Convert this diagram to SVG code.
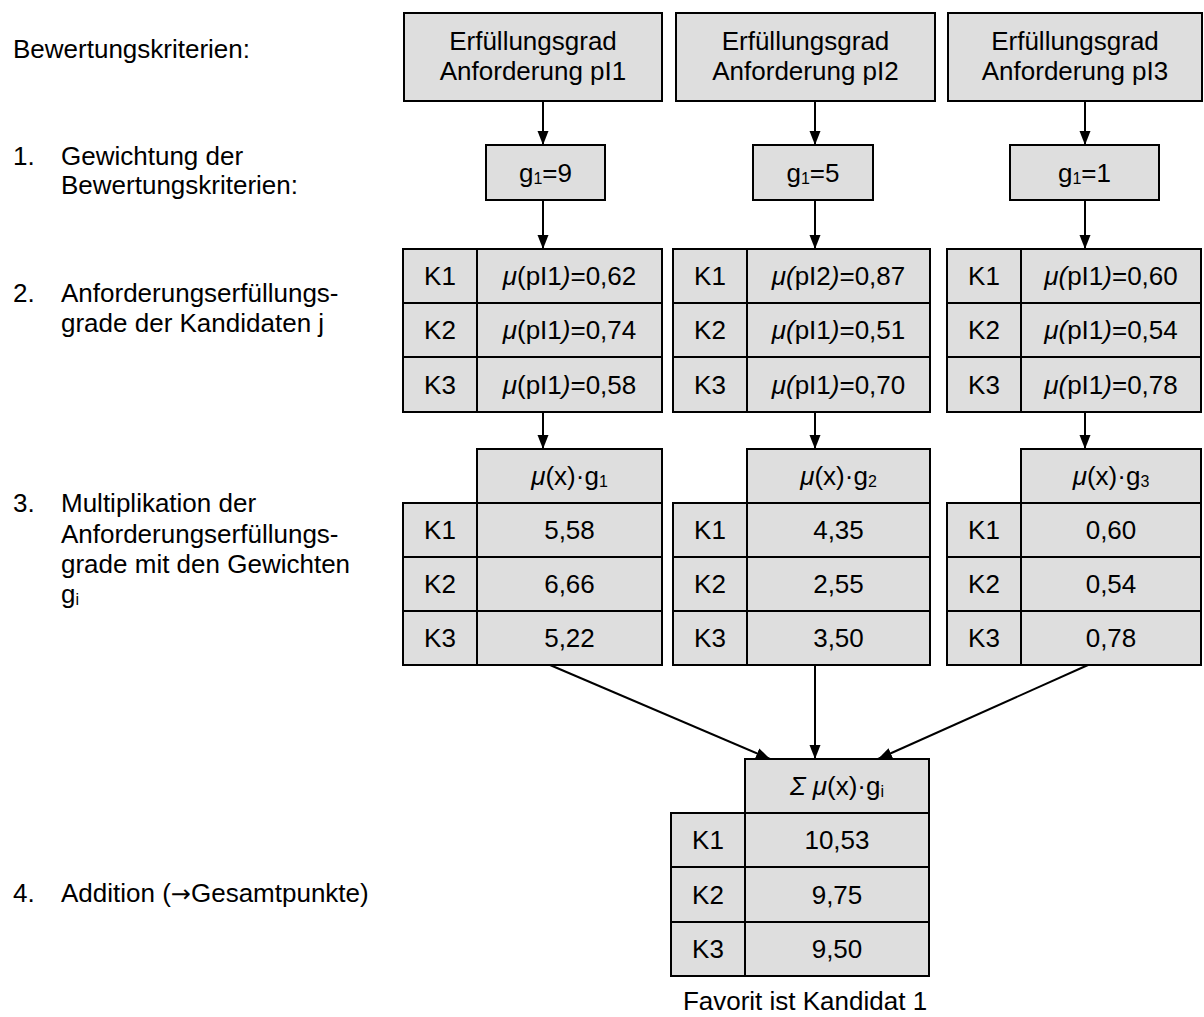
<svg xmlns="http://www.w3.org/2000/svg" width="1204" height="1017" viewBox="0 0 1204 1017">
  <style>
    text { font-family: "Liberation Sans", Arial, sans-serif; font-size: 26px; fill: #000; }
    .c { text-anchor: middle; }
    .box { fill: #dedede; stroke: #000; stroke-width: 2; }
    .edge { stroke: #000; stroke-width: 2; fill: none; marker-end: url(#arr); }
    .it { font-style: italic; }
    .sub { font-size: 16px; }
    .sym { font-family: "DejaVu Sans", sans-serif; font-size: 24px; }
  </style>
  <defs>
    <marker id="arr" viewBox="0 0 14 12" refX="14" refY="6" markerWidth="14" markerHeight="12" markerUnits="userSpaceOnUse" orient="auto">
      <path d="M0,0.5 L14,6 L0,11.5 Z" fill="#000"/>
    </marker>
  </defs>

  <!-- step descriptions on the left -->
  <g id="steps">
    <text x="13" y="58">Bewertungskriterien:</text>
    <text x="13" y="165">1.</text>
    <text x="61" y="165">Gewichtung der</text>
    <text x="61" y="194">Bewertungskriterien:</text>
    <text x="13" y="302">2.</text>
    <text x="61" y="302">Anforderungserfüllungs-</text>
    <text x="61" y="332">grade der Kandidaten j</text>
    <text x="13" y="512">3.</text>
    <text x="61" y="512">Multiplikation der</text>
    <text x="61" y="543">Anforderungserfüllungs-</text>
    <text x="61" y="573">grade mit den Gewichten</text>
    <text x="61" y="603">g<tspan class="sub" dy="2">i</tspan></text>
    <text x="13" y="902">4.</text>
    <text x="61" y="902">Addition (<tspan class="sym">→</tspan>Gesamtpunkte)</text>
  </g>

  <!-- connectors -->
  <g id="connectors">
    <line class="edge" x1="543" y1="101" x2="543" y2="145"/>
    <line class="edge" x1="815" y1="101" x2="815" y2="145"/>
    <line class="edge" x1="1085" y1="101" x2="1085" y2="145"/>
    <line class="edge" x1="543" y1="200" x2="543" y2="249"/>
    <line class="edge" x1="815" y1="200" x2="815" y2="249"/>
    <line class="edge" x1="1085" y1="200" x2="1085" y2="249"/>
    <line class="edge" x1="543" y1="412" x2="543" y2="449"/>
    <line class="edge" x1="815" y1="412" x2="815" y2="449"/>
    <line class="edge" x1="1085" y1="412" x2="1085" y2="449"/>
    <line class="edge" x1="550" y1="665" x2="770" y2="759"/>
    <line class="edge" x1="815" y1="665" x2="815" y2="759"/>
    <line class="edge" x1="1088" y1="665" x2="878" y2="759"/>
  </g>

  <!-- requirement headers -->
  <g id="req1">
    <rect class="box" x="404" y="13" width="258" height="88"/>
    <text class="c" x="533" y="50">Erfüllungsgrad</text>
    <text class="c" x="533" y="80">Anforderung pI1</text>
  </g>
  <g id="req2">
    <rect class="box" x="676" y="13" width="259" height="88"/>
    <text class="c" x="805.5" y="50">Erfüllungsgrad</text>
    <text class="c" x="805.5" y="80">Anforderung pI2</text>
  </g>
  <g id="req3">
    <rect class="box" x="948" y="13" width="254" height="88"/>
    <text class="c" x="1075" y="50">Erfüllungsgrad</text>
    <text class="c" x="1075" y="80">Anforderung pI3</text>
  </g>

  <!-- weights -->
  <g id="weight1">
    <rect class="box" x="486" y="145" width="119" height="55"/>
    <text class="c" x="545.5" y="182">g<tspan class="sub" dy="2">1</tspan><tspan dy="-2">=9</tspan></text>
  </g>
  <g id="weight2">
    <rect class="box" x="753" y="145" width="120" height="55"/>
    <text class="c" x="813" y="182">g<tspan class="sub" dy="2">1</tspan><tspan dy="-2">=5</tspan></text>
  </g>
  <g id="weight3">
    <rect class="box" x="1010" y="145" width="149" height="55"/>
    <text class="c" x="1084.5" y="182">g<tspan class="sub" dy="2">1</tspan><tspan dy="-2">=1</tspan></text>
  </g>

  <!-- fulfilment degrees per candidate -->
  <g id="degrees1">
    <rect class="box" x="403" y="249" width="74" height="54"/>
    <rect class="box" x="477" y="249" width="185" height="54"/>
    <rect class="box" x="403" y="303" width="74" height="54"/>
    <rect class="box" x="477" y="303" width="185" height="54"/>
    <rect class="box" x="403" y="357" width="74" height="55"/>
    <rect class="box" x="477" y="357" width="185" height="55"/>
    <text class="c" x="440" y="285">K1</text>
    <text class="c" x="440" y="339">K2</text>
    <text class="c" x="440" y="394">K3</text>
    <text class="c" x="569.5" y="285"><tspan class="it">μ</tspan>(pI1<tspan class="it">)</tspan>=0,62</text>
    <text class="c" x="569.5" y="339"><tspan class="it">μ</tspan>(pI1<tspan class="it">)</tspan>=0,74</text>
    <text class="c" x="569.5" y="394"><tspan class="it">μ</tspan>(pI1<tspan class="it">)</tspan>=0,58</text>
  </g>
  <g id="degrees2">
    <rect class="box" x="673" y="249" width="74" height="54"/>
    <rect class="box" x="747" y="249" width="183" height="54"/>
    <rect class="box" x="673" y="303" width="74" height="54"/>
    <rect class="box" x="747" y="303" width="183" height="54"/>
    <rect class="box" x="673" y="357" width="74" height="55"/>
    <rect class="box" x="747" y="357" width="183" height="55"/>
    <text class="c" x="710" y="285">K1</text>
    <text class="c" x="710" y="339">K2</text>
    <text class="c" x="710" y="394">K3</text>
    <text class="c" x="838.5" y="285"><tspan class="it">μ(</tspan>pI2<tspan class="it">)</tspan>=0,87</text>
    <text class="c" x="838.5" y="339"><tspan class="it">μ(</tspan>pI1<tspan class="it">)</tspan>=0,51</text>
    <text class="c" x="838.5" y="394"><tspan class="it">μ(</tspan>pI1<tspan class="it">)</tspan>=0,70</text>
  </g>
  <g id="degrees3">
    <rect class="box" x="947" y="249" width="74" height="54"/>
    <rect class="box" x="1021" y="249" width="180" height="54"/>
    <rect class="box" x="947" y="303" width="74" height="54"/>
    <rect class="box" x="1021" y="303" width="180" height="54"/>
    <rect class="box" x="947" y="357" width="74" height="55"/>
    <rect class="box" x="1021" y="357" width="180" height="55"/>
    <text class="c" x="984" y="285">K1</text>
    <text class="c" x="984" y="339">K2</text>
    <text class="c" x="984" y="394">K3</text>
    <text class="c" x="1111" y="285"><tspan class="it">μ(</tspan>pI1<tspan class="it">)</tspan>=0,60</text>
    <text class="c" x="1111" y="339"><tspan class="it">μ(</tspan>pI1<tspan class="it">)</tspan>=0,54</text>
    <text class="c" x="1111" y="394"><tspan class="it">μ(</tspan>pI1<tspan class="it">)</tspan>=0,78</text>
  </g>

  <!-- weighted scores -->
  <g id="weighted1">
    <rect class="box" x="477" y="449" width="185" height="54"/>
    <rect class="box" x="403" y="503" width="74" height="54"/>
    <rect class="box" x="477" y="503" width="185" height="54"/>
    <rect class="box" x="403" y="557" width="74" height="54"/>
    <rect class="box" x="477" y="557" width="185" height="54"/>
    <rect class="box" x="403" y="611" width="74" height="54"/>
    <rect class="box" x="477" y="611" width="185" height="54"/>
    <text class="c" x="569.5" y="485"><tspan class="it">μ</tspan>(x)·g<tspan class="sub" dy="2">1</tspan></text>
    <text class="c" x="440" y="539">K1</text>
    <text class="c" x="440" y="593">K2</text>
    <text class="c" x="440" y="647">K3</text>
    <text class="c" x="569.5" y="539">5,58</text>
    <text class="c" x="569.5" y="593">6,66</text>
    <text class="c" x="569.5" y="647">5,22</text>
  </g>
  <g id="weighted2">
    <rect class="box" x="747" y="449" width="183" height="54"/>
    <rect class="box" x="673" y="503" width="74" height="54"/>
    <rect class="box" x="747" y="503" width="183" height="54"/>
    <rect class="box" x="673" y="557" width="74" height="54"/>
    <rect class="box" x="747" y="557" width="183" height="54"/>
    <rect class="box" x="673" y="611" width="74" height="54"/>
    <rect class="box" x="747" y="611" width="183" height="54"/>
    <text class="c" x="838.5" y="485"><tspan class="it">μ</tspan>(x)·g<tspan class="sub" dy="2">2</tspan></text>
    <text class="c" x="710" y="539">K1</text>
    <text class="c" x="710" y="593">K2</text>
    <text class="c" x="710" y="647">K3</text>
    <text class="c" x="838.5" y="539">4,35</text>
    <text class="c" x="838.5" y="593">2,55</text>
    <text class="c" x="838.5" y="647">3,50</text>
  </g>
  <g id="weighted3">
    <rect class="box" x="1021" y="449" width="180" height="54"/>
    <rect class="box" x="947" y="503" width="74" height="54"/>
    <rect class="box" x="1021" y="503" width="180" height="54"/>
    <rect class="box" x="947" y="557" width="74" height="54"/>
    <rect class="box" x="1021" y="557" width="180" height="54"/>
    <rect class="box" x="947" y="611" width="74" height="54"/>
    <rect class="box" x="1021" y="611" width="180" height="54"/>
    <text class="c" x="1111" y="485"><tspan class="it">μ</tspan>(x)·g<tspan class="sub" dy="2">3</tspan></text>
    <text class="c" x="984" y="539">K1</text>
    <text class="c" x="984" y="593">K2</text>
    <text class="c" x="984" y="647">K3</text>
    <text class="c" x="1111" y="539">0,60</text>
    <text class="c" x="1111" y="593">0,54</text>
    <text class="c" x="1111" y="647">0,78</text>
  </g>

  <!-- total score -->
  <g id="total">
    <rect class="box" x="745" y="759" width="184" height="54"/>
    <rect class="box" x="671" y="813" width="74" height="54"/>
    <rect class="box" x="745" y="813" width="184" height="54"/>
    <rect class="box" x="671" y="867" width="74" height="55"/>
    <rect class="box" x="745" y="867" width="184" height="55"/>
    <rect class="box" x="671" y="922" width="74" height="54"/>
    <rect class="box" x="745" y="922" width="184" height="54"/>
    <text class="c" x="837" y="795"><tspan class="it">Σ μ</tspan>(x)·g<tspan class="sub" dy="2">i</tspan></text>
    <text class="c" x="708" y="849">K1</text>
    <text class="c" x="708" y="904">K2</text>
    <text class="c" x="708" y="958">K3</text>
    <text class="c" x="837" y="849">10,53</text>
    <text class="c" x="837" y="904">9,75</text>
    <text class="c" x="837" y="958">9,50</text>
    <text class="c" x="805" y="1010">Favorit ist Kandidat 1</text>
  </g>
</svg>
